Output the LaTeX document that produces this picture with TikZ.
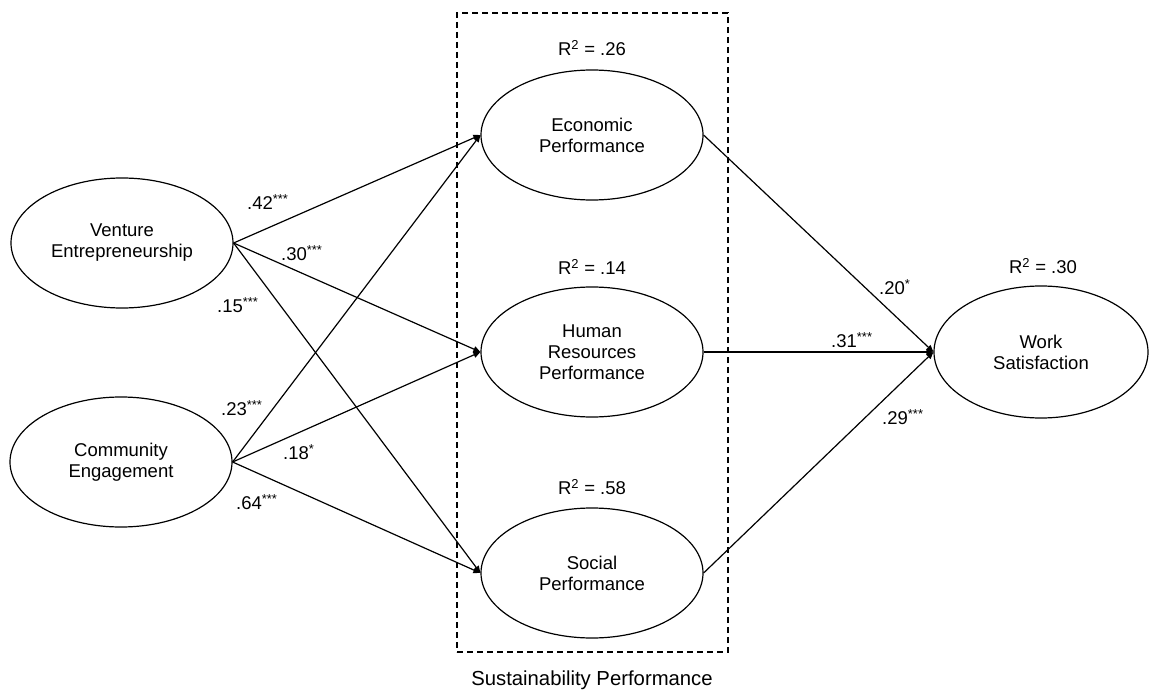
\documentclass[tikz,border=0pt]{standalone}
\usepackage{fontspec}
\setmainfont{Liberation Sans}
\usetikzlibrary{shapes.geometric,arrows.meta}
\begin{document}
\begin{tikzpicture}[x=1pt,y=-1pt,
  every node/.style={font=\fontsize{18.5}{21}\selectfont},
  latent/.style={ellipse,draw,line width=1.2pt,minimum width=222pt,minimum height=130pt,inner sep=0pt,align=center},
  path/.style={line width=1.2pt,-{Triangle[length=7pt,width=6pt]}},
  coef/.style={inner sep=0pt,anchor=west},
  rsq/.style={inner sep=0pt}]
\useasboundingbox (0,0) rectangle (1149,693);
% dashed box
\node[draw,dashed,dash pattern=on 6pt off 4pt,line width=1.2pt,minimum width=271pt,minimum height=639pt,inner sep=0pt] (box) at (592.5,332.5) {};
\node[rsq,font=\fontsize{20.3}{23}\selectfont] (sust) at (592,680) {Sustainability Performance};
% latent variables
\node[latent] (ve) at (122,243) {Venture\\Entrepreneurship};
\node[latent] (ce) at (121,462) {Community\\Engagement};
\node[latent] (ep) at (592,135) {Economic\\Performance};
\node[latent] (hr) at (592,352) {Human\\Resources\\Performance};
\node[latent] (sp) at (592,573) {Social\\Performance};
\node[latent,minimum width=214pt,minimum height=132pt] (ws) at (1041,352) {Work\\Satisfaction};
% R squared
\node[rsq] (r1) at (592,48) {R\textsuperscript{2} = .26};
\node[rsq] (r2) at (592,267) {R\textsuperscript{2} = .14};
\node[rsq] (r3) at (592,487) {R\textsuperscript{2} = .58};
\node[rsq] (r4) at (1043,266) {R\textsuperscript{2} = .30};
% paths
\draw[path] (ve.east) -- (ep.west);
\draw[path] (ve.east) -- (hr.west);
\draw[path] (ve.east) -- (sp.west);
\draw[path] (ce.east) -- (ep.west);
\draw[path] (ce.east) -- (hr.west);
\draw[path] (ce.east) -- (sp.west);
\draw[path] (ep.east) -- (ws.west);
\draw[path] (hr.east) -- (ws.west);
\draw[path] (sp.east) -- (ws.west);
% coefficients
\node[coef] (c1) at (247,202) {.42\textsuperscript{***}};
\node[coef] (c2) at (281,253) {.30\textsuperscript{***}};
\node[coef] (c3) at (217,305) {.15\textsuperscript{***}};
\node[coef] (c4) at (221,408) {.23\textsuperscript{***}};
\node[coef] (c5) at (283,452) {.18\textsuperscript{*}};
\node[coef] (c6) at (236,502) {.64\textsuperscript{***}};
\node[coef] (c7) at (879,287) {.20\textsuperscript{*}};
\node[coef] (c8) at (831,340) {.31\textsuperscript{***}};
\node[coef] (c9) at (882,417) {.29\textsuperscript{***}};
\end{tikzpicture}
\end{document}
